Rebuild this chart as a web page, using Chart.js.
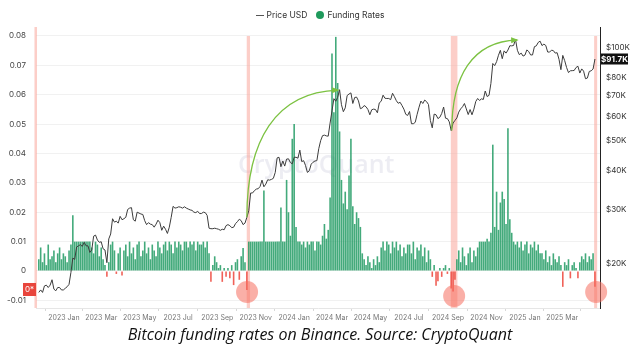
<!DOCTYPE html>
<html><head><meta charset="utf-8">
<script src="https://cdn.jsdelivr.net/npm/chart.js@4.4.1/dist/chart.umd.min.js"></script>
<style>
html,body{margin:0;padding:0;background:#fff;}
#wrap{position:relative;width:640px;height:351px;overflow:hidden;background:#fff;}
#c{position:absolute;left:0;top:0;}
#legend{position:absolute;top:10px;left:0;width:640px;text-align:center;font:8.5px Inter,"Noto Sans",sans-serif;color:#333;line-height:11px;}
#legend .dash{display:inline-block;width:8px;height:1px;background:#555;vertical-align:middle;margin-right:3px;}
#legend .dot{display:inline-block;width:8px;height:8px;border-radius:50%;background:#1f9a5c;vertical-align:-1px;margin:0 3px 0 9px;}
#cap{position:absolute;left:0;width:640px;top:323px;text-align:center;font:italic 16px "Open Sans",sans-serif;color:#111;white-space:nowrap;}
</style></head>
<body>
<div id="wrap">
<canvas id="c" width="640" height="351"></canvas>
<div id="legend"><span class="dash"></span>Price USD<span class="dot"></span>Funding Rates</div>
<div id="cap">Bitcoin funding rates on Binance. Source: CryptoQuant</div>
</div>
<script>
// Sampling: first point 2022-11-22 (day -40 relative to 2023-01-01), every 3 days, last 2025-04-22
const startDay = -40;
const stepDays = 3;

// BTC price, thousands of USD
const priceK = [
 16.2,16.5,16.2,17.0,17.1,16.8,17.1,17.8,16.6,16.4,16.8,16.8,16.5,16.5,
 16.7,16.9,17.2,18.8,20.9,20.7,22.7,22.9,23.1,22.8,
 23.5,22.9,22.9,21.8,22.2,24.6,24.8,23.9,23.5,
 23.6,22.4,22.2,20.2,24.1,25.0,28.0,27.3,27.5,27.1,28.5,
 27.8,28.0,28.3,30.0,30.3,30.4,27.8,27.5,29.4,29.2,
 29.0,28.9,27.6,26.8,27.2,26.9,26.8,26.3,26.9,27.7,
 27.2,25.7,26.5,25.9,25.1,26.3,28.3,30.7,30.3,30.4,
 30.6,30.5,30.3,30.6,30.3,30.1,29.9,29.8,29.4,29.3,
 29.6,29.1,29.1,29.4,29.3,28.7,26.1,26.0,26.0,26.1,26.0,
 25.9,25.7,25.9,25.8,26.6,26.8,26.6,26.2,26.3,27.0,
 27.4,27.9,27.6,26.8,27.1,28.3,29.7,33.9,33.9,34.5,
 34.9,35.0,35.6,37.3,35.5,36.2,37.4,37.3,37.5,37.8,
 39.5,44.0,44.2,41.2,43.0,41.4,43.6,43.7,42.5,42.1,
 44.2,44.2,43.9,46.6,42.8,43.1,41.6,39.5,40.0,42.0,42.6,
 43.0,43.1,47.1,50.0,51.9,52.1,51.8,51.7,57.0,
 62.4,68.3,67.0,69.0,73.0,65.3,62.0,63.8,69.9,70.7,71.3,
 65.9,68.9,69.1,67.2,63.4,63.8,64.9,64.3,63.0,60.6,
 62.9,63.2,63.0,61.5,66.2,67.0,70.1,68.5,68.4,68.4,
 67.8,71.1,69.3,67.3,66.0,66.5,64.9,63.2,60.8,60.3,
 62.1,56.7,56.7,57.3,60.8,64.1,67.1,65.9,67.6,66.8,
 65.4,58.1,55.0,60.9,60.6,58.9,59.5,61.2,64.2,59.1,58.9,
 57.5,53.9,57.0,58.1,59.2,61.8,63.3,64.3,65.9,63.3,
 60.7,63.0,60.6,63.2,66.9,68.4,67.4,68.2,67.9,72.3,
 69.4,70.0,76.5,88.7,87.3,89.9,94.3,97.8,91.9,97.4,
 95.8,98.0,101.2,101.1,101.4,106.1,97.8,94.7,95.8,93.7,
 94.4,98.1,96.9,94.5,94.5,100.5,101.1,103.7,104.7,101.3,102.4,
 101.4,96.6,96.5,97.9,97.6,95.8,96.1,91.5,84.7,
 94.2,90.6,86.1,82.9,84.0,84.1,84.2,86.1,86.9,82.6,
 85.2,83.8,79.2,79.6,83.6,84.0,85.1,91.7
];

// Binance BTC funding rate (%)
const fundingRate = [
 0.004,0.008,0.003,0.006,0.002,0.009,0.004,0.005,0.007,0.003,0.006,0.008,0.004,0.006,
 0.005,0.003,0.007,0.009,
 0.019,
 0.010,0.010,0.010,0.010,0.010,0.010,0.010,0.010,0.010,
 0.008,0.006,0.010,0.009,0.005,0.008,0.004,
 0.002,-0.002,0.003,
 0.009,0.010,0.007,-0.001,0.006,0.008,-0.0015,
 0.007,0.009,0.005,0.010,0.006,0.008,0.004,0.009,0.010,0.005,0.007,0.010,0.006,0.008,0.004,0.009,0.007,0.005,0.010,0.008,0.006,0.009,0.010,0.007,0.010,0.009,0.006,0.010,0.008,0.010,0.009,0.007,0.010,0.010,0.008,0.010,0.009,0.010,0.007,0.010,0.009,
 0.009,0.010,0.008,0.010,0.006,
 -0.0037,0.002,0.005,0.003,0.001,0.002,-0.0037,0.001,-0.002,0.001,-0.0025,0.002,-0.0048,0.003,0.004,-0.003,0.005,0.0078,0.003,-0.0065,
 0.010,0.010,0.010,0.010,0.010,0.010,0.010,0.010,
 0.0274,
 0.010,0.010,0.010,0.010,0.010,0.010,0.010,0.010,
 0.0216,
 0.010,0.010,
 0.031,0.020,0.012,0.045,0.050,0.015,0.010,
 0.010,0.009,0.010,0.008,0.010,0.009,0.010,0.010,0.007,
 0.010,0.010,0.009,0.012,0.016,
 0.011,0.014,0.025,0.074,0.054,0.0797,0.064,0.0475,0.031,0.023,0.027,0.021,0.0325,0.045,0.022,0.016,0.020,0.018,0.015,
 0.006,0.004,0.002,0.005,0.003,0.001,0.004,0.002,0.005,0.003,
 0.008,0.010,0.007,0.010,0.009,0.006,0.010,0.008,0.010,0.007,0.009,0.005,0.008,0.006,0.009,
 0.009,0.006,0.010,0.004,0.008,0.007,0.009,0.005,0.008,0.003,0.007,0.004,
 -0.002,0.002,-0.005,-0.0035,0.001,-0.002,0.001,0.002,-0.001,0.001,-0.006,-0.007,-0.003,
 0.004,0.007,0.003,0.008,0.005,0.002,0.006,0.008,0.003,0.007,0.005,0.008,
 0.010,0.010,0.010,0.010,0.011,0.010,0.013,
 0.043,0.015,0.027,0.014,0.0233,0.027,0.0245,0.016,0.0486,0.0176,0.013,
 0.010,0.009,0.010,0.008,0.010,0.007,0.009,0.010,0.006,0.009,0.008,0.010,0.007,0.009,0.006,
 0.006,0.004,0.007,0.003,0.005,0.002,0.006,0.004,0.003,0.005,0.002,
 -0.0054,
 0.003,0.002,0.004,
 -0.0025,
 0.002,0.003,0.001,
 -0.0025,
 0.003,0.005,0.004,0.006,0.003,0.005,0.004,0.006,
 -0.0054
];

// Axis ticks
const xTickDays = [0,59,120,181,243,304,365,425,486,547,609,670,731,790];
const xTickLabels = ['2023 Jan','2023 Mar','2023 May','2023 Jul','2023 Sep','2023 Nov','2024 Jan','2024 Mar','2024 May','2024 Jul','2024 Sep','2024 Nov','2025 Jan','2025 Mar'];
const fundingTicks = [-0.01,0,0.01,0.02,0.03,0.04,0.05,0.06,0.07,0.08];
const priceTicksK = [20,30,40,50,60,70,80,100];

// Annotations (data coordinates)
const bandDays = [[-46.8,-42.8],[289.8,295],[613.4,623.9],[840.7,845.5]];
const circleMarks = [[290.3,-0.00715],[618.7,-0.0085],[843.9,-0.00715]];
const arrowMarks = [[290,28.3,434.6,72.8],[615,53.9,718.6,105.6]];

const days = priceK.map((_, i) => startDay + i * stepDays);

const overlay = {
  id: 'overlay',
  beforeDatasetsDraw(chart) {
    const {ctx, chartArea: a, scales: {x, y}} = chart;
    ctx.save();
    ctx.font = '600 25px "Open Sans", sans-serif';
    ctx.fillStyle = 'rgba(214,214,228,0.45)';
    ctx.textAlign = 'center';
    ctx.textBaseline = 'middle';
    ctx.fillText('CryptoQuant', x.getPixelForValue(400), y.getPixelForValue(0.0357));
    ctx.fillStyle = 'rgba(250,165,155,0.55)';
    bandDays.forEach(([d0, d1], k) => {
      const x0 = x.getPixelForValue(d0), x1 = x.getPixelForValue(d1);
      const top = k === 0 ? a.top : y.getPixelForValue(0.08);
      ctx.fillRect(x0, top, x1 - x0, a.bottom - top);
    });
    ctx.restore();
  },
  afterDatasetsDraw(chart) {
    const {ctx, chartArea: a, scales: {x, y, y1}} = chart;
    ctx.save();
    // circles
    ctx.fillStyle = 'rgba(245,110,95,0.55)';
    circleMarks.forEach(([d, v]) => {
      ctx.beginPath();
      ctx.arc(x.getPixelForValue(d), y.getPixelForValue(v), 11, 0, Math.PI * 2);
      ctx.fill();
    });
    // arrows
    ctx.strokeStyle = '#7cc242';
    ctx.fillStyle = '#7cc242';
    ctx.lineWidth = 1.3;
    arrowMarks.forEach(([d0, p0v, d1, p1v]) => {
      const p0 = {x: x.getPixelForValue(d0), y: y1.getPixelForValue(p0v)};
      const p3 = {x: x.getPixelForValue(d1), y: y1.getPixelForValue(p1v)};
      const dy = p0.y - p3.y, dx = p3.x - p0.x;
      const c1 = {x: p0.x, y: p0.y - 0.6 * dy};
      const c2 = {x: p0.x + 0.31 * dx, y: p3.y + 0.016 * dy};
      ctx.beginPath();
      ctx.moveTo(p0.x, p0.y);
      ctx.bezierCurveTo(c1.x, c1.y, c2.x, c2.y, p3.x, p3.y);
      ctx.stroke();
      const ang = Math.atan2(p3.y - c2.y, p3.x - c2.x);
      const L = 6, W = 3;
      ctx.beginPath();
      ctx.moveTo(p3.x + 1.5 * Math.cos(ang), p3.y + 1.5 * Math.sin(ang));
      ctx.lineTo(p3.x - L * Math.cos(ang) + W * Math.sin(ang), p3.y - L * Math.sin(ang) - W * Math.cos(ang));
      ctx.lineTo(p3.x - L * Math.cos(ang) - W * Math.sin(ang), p3.y - L * Math.sin(ang) + W * Math.cos(ang));
      ctx.closePath();
      ctx.fill();
    });
    // "0*" marker on left
    const zy = y.getPixelForValue(-0.0063);
    ctx.fillStyle = '#e8453c';
    ctx.fillRect(a.left - 13, zy - 6.5, 13, 13);
    ctx.fillStyle = '#fff';
    ctx.font = '8px Inter, sans-serif';
    ctx.textAlign = 'center';
    ctx.textBaseline = 'middle';
    ctx.fillText('0*', a.left - 6.5, zy + 0.5);
    // last price box
    const last = priceK[priceK.length - 1];
    const ly = y1.getPixelForValue(last);
    ctx.fillStyle = '#111';
    ctx.fillRect(a.right + 1, ly - 5.5, 27, 11);
    ctx.fillStyle = '#fff';
    ctx.font = 'bold 8px Inter, sans-serif';
    ctx.fillText('$' + last.toFixed(1) + 'K', a.right + 14.5, ly + 0.5);
    ctx.restore();
  }
};

new Chart(document.getElementById('c'), {
  type: 'bar',
  data: {
    datasets: [
      {
        type: 'line', label: 'Price USD', yAxisID: 'y1',
        data: days.map((d, i) => ({x: d, y: priceK[i]})),
        borderColor: '#3c3c3c', borderWidth: 1, pointRadius: 0, tension: 0
      },
      {
        type: 'bar', label: 'Funding Rates', yAxisID: 'y',
        data: days.map((d, i) => ({x: d, y: fundingRate[i]})),
        backgroundColor: fundingRate.map(v => v >= 0 ? 'rgba(34,155,100,0.85)' : 'rgba(238,80,70,0.9)'),
        barPercentage: 0.85, categoryPercentage: 1
      }
    ]
  },
  options: {
    responsive: false, animation: false,
    layout: {padding: {top: 27, left: 0, right: 0, bottom: 0}},
    plugins: {legend: {display: false}, tooltip: {enabled: false}},
    scales: {
      x: {
        type: 'linear', min: -44.4, max: 850, offset: false,
        afterBuildTicks: s => { s.ticks = xTickDays.map(v => ({value: v})); },
        afterFit: s => { s.height = 43; },
        ticks: {callback: (v, i) => xTickLabels[i], font: {size: 7, family: 'Inter'}, color: '#777', maxRotation: 0, autoSkip: false, padding: 3},
        grid: {drawOnChartArea: false, tickLength: 3, color: '#d8d8d8'},
        border: {color: '#e6e6e6'}
      },
      y: {
        type: 'linear', position: 'left', min: -0.0126, max: 0.08306,
        afterBuildTicks: s => { s.ticks = fundingTicks.map(v => ({value: v})); },
        afterFit: s => { s.width = 36; },
        ticks: {callback: v => v === 0 ? '0' : String(+v.toFixed(2)), font: {size: 8, family: 'Inter'}, color: '#444', padding: 10},
        grid: {color: '#f1f1f1', drawTicks: false},
        border: {display: false}
      },
      y1: {
        type: 'logarithmic', position: 'right', min: 14.43, max: 116.3,
        afterBuildTicks: s => { s.ticks = priceTicksK.map(v => ({value: v})); },
        afterFit: s => { s.width = 40; },
        ticks: {callback: v => '$' + v + 'K', font: {size: 8, family: 'Inter'}, color: '#333', padding: 6},
        grid: {display: false, drawTicks: false},
        border: {display: true, color: '#222', width: 1}
      }
    }
  },
  plugins: [overlay]
});
</script>
</body></html>
